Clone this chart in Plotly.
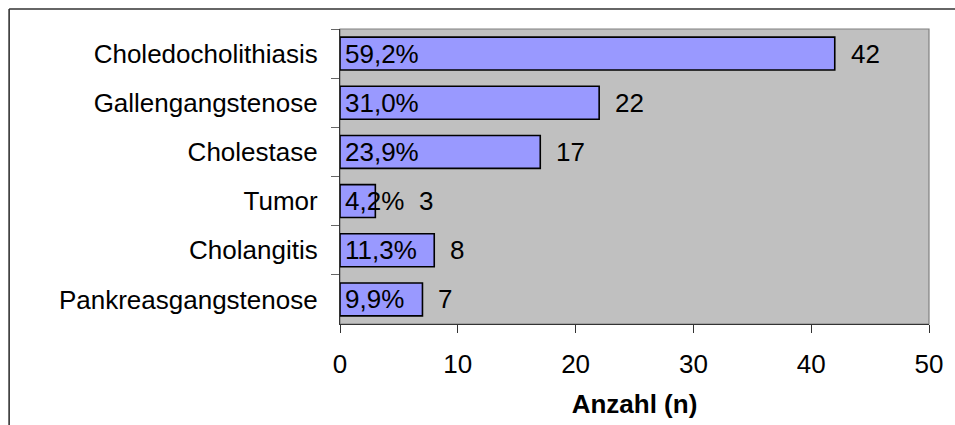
import plotly.graph_objects as go

# Befunde (Anzahl n und Anteil in %)
categories = ["Choledocholithiasis", "Gallengangstenose", "Cholestase",
              "Tumor", "Cholangitis", "Pankreasgangstenose"]
counts = [42, 22, 17, 3, 8, 7]
percents = ["59,2%", "31,0%", "23,9%", "4,2%", "11,3%", "9,9%"]
x_ticks = [0, 10, 20, 30, 40, 50]

FONT = "Liberation Sans, Arial, sans-serif"
FS = 26

fig = go.Figure(go.Bar(
    y=categories, x=counts, orientation="h",
    marker=dict(color="#9999FF", line=dict(color="#000000", width=1.6)),
    hoverinfo="skip",
))

annotations = []
px_per_unit = 591 / 50.0
for cat, n, pct in zip(categories, counts, percents):
    annotations.append(dict(
        x=0, y=cat, xref="x", yref="y", text=pct, showarrow=False,
        xanchor="left", xshift=3, font=dict(family=FONT, size=FS, color="#000"),
    ))
    # keep the count clear of the percentage label when the bar is short
    pct_width = len(pct) * 0.52 * FS + 3
    bar_px = n * px_per_unit
    shift = 14 if bar_px + 14 > pct_width + 10 else pct_width + 20 - bar_px
    annotations.append(dict(
        x=n, y=cat, xref="x", yref="y", text=str(n), showarrow=False,
        xanchor="left", xshift=shift, font=dict(family=FONT, size=FS, color="#000"),
    ))

# plot-area border and outer chart frame
shapes = [
    dict(type="rect", xref="paper", yref="paper", x0=0, x1=1, y0=0, y1=1,
         line=dict(color="#808080", width=1.2), layer="below",
         fillcolor="rgba(0,0,0,0)"),
    dict(type="line", xref="paper", yref="paper", x0=(8 - 340) / 591, x1=1.1,
         y0=(325 - 9) / 296, y1=(325 - 9) / 296, line=dict(color="#333333", width=1.6)),
    dict(type="line", xref="paper", yref="paper", x0=(8 - 340) / 591, x1=(8 - 340) / 591,
         y0=(325 - 9) / 296, y1=-0.5, line=dict(color="#333333", width=1.6)),
]

fig.update_layout(
    width=955, height=425,
    margin=dict(l=340, r=24, t=29, b=99),
    paper_bgcolor="#FFFFFF", plot_bgcolor="#C0C0C0",
    bargap=0.33, showlegend=False,
    font=dict(family=FONT, size=FS, color="#000"),
    annotations=annotations, shapes=shapes,
    xaxis=dict(
        range=[0, 50], tickvals=x_ticks, ticks="outside", ticklen=8,
        tickcolor="#333333", showgrid=False, zeroline=False,
        showline=True, linecolor="#333333", linewidth=1.2,
        ticklabelstandoff=9,
        title=dict(text="<b>Anzahl (n)</b>", font=dict(family=FONT, size=FS),
                   standoff=16),
    ),
    yaxis=dict(
        type="category", categoryorder="array", categoryarray=categories,
        autorange="reversed", tickson="boundaries", ticks="outside", ticklen=8,
        tickcolor="#666666", showgrid=False, zeroline=False,
        showline=True, linecolor="#333333", linewidth=1.2,
        ticklabelstandoff=16,
    ),
)

fig.write_html("out.html")
